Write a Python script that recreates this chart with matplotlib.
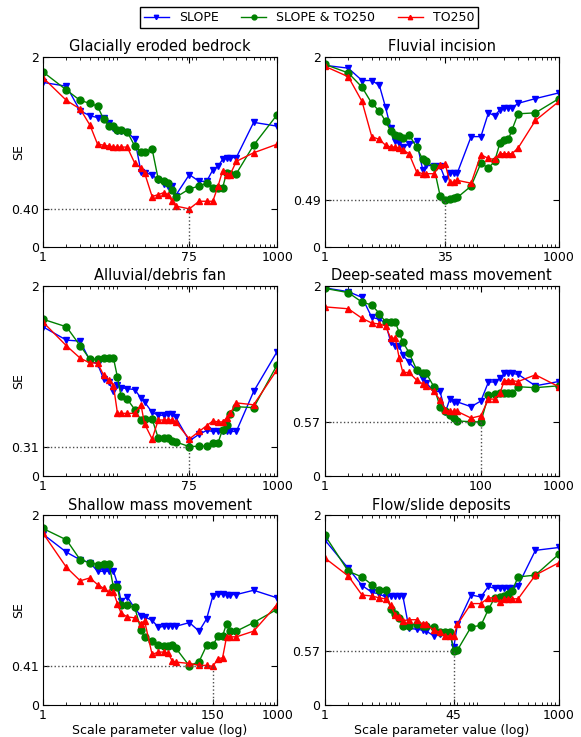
import matplotlib
matplotlib.use("Agg")
import matplotlib.pyplot as plt
from matplotlib.ticker import FixedLocator, NullFormatter, LogLocator

# scale parameter values used for the segmentation runs
scales = [1, 2, 3, 4, 5, 6, 7, 8, 9, 10, 12, 15, 18, 20, 25, 30, 35, 40, 45, 50,
          75, 100, 125, 150, 175, 200, 225, 250, 300, 500, 1000]

titles = ["Glacially eroded bedrock", "Fluvial incision", "Alluvial/debris fan",
          "Deep-seated mass movement", "Shallow mass movement", "Flow/slide deposits"]

# SE values per landform, one list per input layer
glacial_slope = [1.73, 1.69, 1.43, 1.38, 1.36, 1.36, 1.30, 1.25, 1.22, 1.22, 1.21, 1.13, 0.79, 0.78, 0.76, 0.70,
                 0.66, 0.64, 0.64, 0.54, 0.76, 0.69, 0.69, 0.81, 0.85, 0.92, 0.93, 0.94, 0.94, 1.31, 1.27]
glacial_both = [1.84, 1.65, 1.54, 1.51, 1.48, 1.34, 1.27, 1.27, 1.23, 1.23, 1.21, 1.06, 1.00, 1.00, 1.03, 0.71,
                0.69, 0.67, 0.60, 0.52, 0.61, 0.64, 0.67, 0.62, 0.62, 0.62, 0.78, 0.77, 0.77, 1.07, 1.39]
glacial_to250 = [1.78, 1.54, 1.45, 1.28, 1.08, 1.07, 1.06, 1.05, 1.05, 1.05, 1.05, 0.88, 0.83, 0.78, 0.53, 0.55,
                 0.57, 0.55, 0.48, 0.43, 0.40, 0.48, 0.48, 0.48, 0.64, 0.80, 0.76, 0.76, 0.90, 0.99, 1.08]

fluvial_slope = [1.91, 1.88, 1.75, 1.75, 1.70, 1.47, 1.25, 1.11, 1.09, 1.05, 1.08, 1.11, 0.81, 0.86, 0.85, 0.85,
                 0.71, 0.78, 0.78, 0.78, 1.16, 1.16, 1.41, 1.38, 1.44, 1.46, 1.46, 1.46, 1.51, 1.56, 1.62]
fluvial_both = [1.92, 1.83, 1.68, 1.51, 1.43, 1.32, 1.22, 1.18, 1.17, 1.15, 1.18, 1.05, 0.92, 0.90, 0.84, 0.54,
                0.49, 0.50, 0.51, 0.52, 0.64, 0.88, 0.83, 0.90, 1.09, 1.12, 1.13, 1.23, 1.40, 1.41, 1.56]
fluvial_to250 = [1.90, 1.79, 1.53, 1.16, 1.13, 1.07, 1.05, 1.05, 1.04, 1.02, 0.98, 0.79, 0.77, 0.77, 0.77, 0.86,
                 0.87, 0.68, 0.68, 0.70, 0.67, 0.97, 0.93, 0.92, 0.98, 0.98, 0.98, 0.98, 1.04, 1.33, 1.53]

alluvial_slope = [1.57, 1.43, 1.42, 1.21, 1.18, 1.02, 0.99, 0.89, 0.96, 0.93, 0.92, 0.91, 0.82, 0.78, 0.67, 0.64,
                  0.64, 0.65, 0.65, 0.62, 0.37, 0.44, 0.48, 0.47, 0.47, 0.47, 0.47, 0.47, 0.47, 0.89, 1.31]
alluvial_both = [1.65, 1.57, 1.37, 1.23, 1.23, 1.24, 1.24, 1.24, 1.04, 0.84, 0.81, 0.70, 0.59, 0.60, 0.60, 0.40,
                 0.40, 0.40, 0.365, 0.36, 0.31, 0.315, 0.315, 0.35, 0.35, 0.49, 0.54, 0.65, 0.73, 0.72, 1.17]
alluvial_to250 = [1.62, 1.37, 1.24, 1.19, 1.19, 1.06, 1.01, 0.95, 0.66, 0.66, 0.66, 0.66, 0.75, 0.55, 0.39, 0.59,
                  0.59, 0.59, 0.59, 0.57, 0.39, 0.47, 0.53, 0.58, 0.57, 0.57, 0.61, 0.66, 0.77, 0.75, 1.12]

deep_slope = [1.98, 1.94, 1.88, 1.67, 1.65, 1.61, 1.41, 1.37, 1.37, 1.27, 1.20, 1.11, 1.02, 0.98, 0.89, 0.89,
              0.67, 0.81, 0.78, 0.78, 0.73, 0.79, 0.99, 0.99, 1.03, 1.08, 1.08, 1.08, 1.07, 0.95, 0.995]
deep_both = [1.975, 1.93, 1.83, 1.80, 1.71, 1.62, 1.62, 1.62, 1.51, 1.41, 1.30, 1.12, 1.08, 1.08, 0.94, 0.73,
             0.68, 0.64, 0.61, 0.58, 0.572, 0.57, 0.85, 0.86, 0.87, 0.87, 0.87, 0.87, 0.94, 0.93, 0.95]
deep_to250 = [1.78, 1.76, 1.66, 1.61, 1.60, 1.58, 1.45, 1.45, 1.24, 1.09, 1.09, 1.01, 0.97, 0.95, 0.89, 0.80,
              0.70, 0.68, 0.68, 0.68, 0.61, 0.635, 0.81, 0.81, 0.87, 1.005, 1.005, 1.005, 0.995, 1.065, 0.94]

shallow_slope = [1.80, 1.61, 1.53, 1.50, 1.41, 1.41, 1.41, 1.41, 1.28, 1.10, 1.14, 1.02, 0.94, 0.93, 0.895, 0.82,
                 0.83, 0.83, 0.83, 0.83, 0.87, 0.78, 0.91, 1.15, 1.17, 1.17, 1.165, 1.165, 1.165, 1.21, 1.13]
shallow_both = [1.86, 1.74, 1.53, 1.50, 1.48, 1.49, 1.49, 1.24, 1.24, 1.05, 1.05, 1.03, 0.79, 0.72, 0.675, 0.63,
                0.62, 0.62, 0.635, 0.605, 0.415, 0.46, 0.63, 0.63, 0.73, 0.73, 0.86, 0.78, 0.78, 0.87, 1.01]
shallow_to250 = [1.81, 1.45, 1.31, 1.34, 1.27, 1.23, 1.19, 1.19, 1.07, 0.97, 0.93, 0.92, 0.86, 0.89, 0.535, 0.56,
                 0.56, 0.55, 0.47, 0.455, 0.44, 0.42, 0.42, 0.41, 0.49, 0.50, 0.72, 0.72, 0.72, 0.78, 1.06]

flow_slope = [1.74, 1.44, 1.26, 1.19, 1.17, 1.14, 1.15, 1.15, 1.15, 1.15, 0.81, 0.80, 0.79, 0.78, 0.73, 0.745,
              0.74, 0.74, 0.61, 0.85, 1.16, 1.14, 1.25, 1.23, 1.23, 1.23, 1.23, 1.23, 1.26, 1.63, 1.66]
flow_both = [1.79, 1.41, 1.35, 1.27, 1.21, 1.21, 1.01, 0.96, 0.92, 0.835, 0.835, 0.86, 0.835, 0.835, 0.82, 0.775,
             0.775, 0.775, 0.57, 0.58, 0.825, 0.84, 1.01, 1.13, 1.14, 1.15, 1.175, 1.20, 1.35, 1.37, 1.59]
flow_to250 = [1.55, 1.36, 1.16, 1.15, 1.13, 1.12, 1.05, 0.95, 0.93, 0.89, 0.90, 0.90, 0.85, 0.85, 0.79, 0.77,
              0.73, 0.73, 0.73, 0.85, 1.07, 1.07, 1.13, 1.13, 1.09, 1.12, 1.12, 1.12, 1.12, 1.37, 1.50]

panels = [
    (glacial_slope, glacial_both, glacial_to250),
    (fluvial_slope, fluvial_both, fluvial_to250),
    (alluvial_slope, alluvial_both, alluvial_to250),
    (deep_slope, deep_both, deep_to250),
    (shallow_slope, shallow_both, shallow_to250),
    (flow_slope, flow_both, flow_to250),
]

fig = plt.figure(figsize=(5.81, 7.37), dpi=100)

# axes boxes in figure fractions (left, bottom, width, height)
lefts = [0.074, 0.559]
bottoms = [0.665, 0.354, 0.043]
w, h = 0.403, 0.258

handles = None
for i, (slope, both, to250) in enumerate(panels):
    row, col = divmod(i, 2)
    ax = fig.add_axes([lefts[col], bottoms[row], w, h])

    l1, = ax.plot(scales, slope, color='b', marker='v', ms=4.5, lw=1, mec='b')
    l2, = ax.plot(scales, both, color='g', marker='o', ms=5, lw=1, mec='g')
    l3, = ax.plot(scales, to250, color='r', marker='^', ms=4.5, lw=1, mec='r')
    handles = [l1, l2, l3]

    # best (lowest) SE over all three inputs
    best_val, best_x = min(
        (v, x) for series in (slope, both, to250) for x, v in zip(scales, series))

    ax.set_xscale('log')
    ax.set_xlim(1, 1000)
    ax.set_ylim(0, 2)
    ax.plot([1, best_x], [best_val, best_val], ls=':', color='0.3', lw=1)
    ax.plot([best_x, best_x], [0, best_val], ls=':', color='0.3', lw=1)

    ax.xaxis.set_major_locator(FixedLocator([1, best_x, 1000]))
    ax.set_xticklabels(['1', str(best_x), '1000'])
    ax.xaxis.set_minor_locator(LogLocator(base=10, subs=range(2, 10)))
    ax.xaxis.set_minor_formatter(NullFormatter())
    ax.yaxis.set_major_locator(FixedLocator([0, best_val, 2]))
    ax.set_yticklabels(['0', '%.2f' % best_val, '2'])

    ax.tick_params(direction='in', top=True, right=True, which='both', labelsize=9)
    ax.tick_params(which='major', length=4, pad=3)
    ax.tick_params(which='minor', length=2)
    ax.set_title(titles[i], fontsize=10.5, pad=4)
    if col == 0:
        ax.set_ylabel('SE', fontsize=9)
        ax.yaxis.set_label_coords(-0.077, 0.5)
    if row == 2:
        ax.set_xlabel('Scale parameter value (log)', fontsize=9, labelpad=1)

fig.legend(handles, ['SLOPE', 'SLOPE & TO250', 'TO250'], loc='center',
           bbox_to_anchor=(0.532, 0.976), ncol=3, fontsize=9, numpoints=1,
           markerscale=0.7, fancybox=False, edgecolor='black', framealpha=1,
           handlelength=2, borderpad=0.3, columnspacing=1.8)

fig.savefig('out.png', dpi=100, facecolor='white')
